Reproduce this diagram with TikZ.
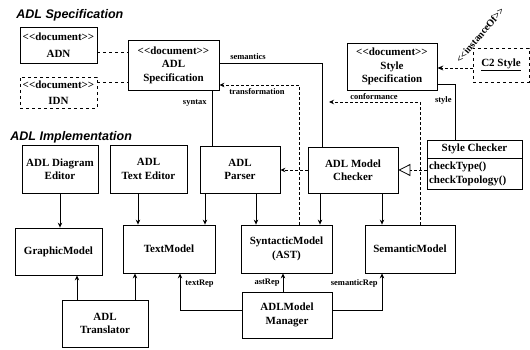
\documentclass[tikz,border=0pt]{standalone}
\usepackage{fontspec}
\setmainfont{Liberation Serif}
\newfontfamily\headfont{Liberation Sans}
\usetikzlibrary{arrows.meta,shapes.multipart}

\newcommand\stereo[1]{<\kern0pt<#1>\kern0pt>}

\begin{document}
\begin{tikzpicture}[x=1pt, y=-1pt, line width=0.8pt,
    box/.style={draw, fill=white, align=center, inner sep=1pt,
                font=\fontsize{11}{13.5}\selectfont\bfseries},
    lbl/.style={font=\fontsize{8.5}{10}\selectfont\bfseries, inner sep=1pt},
    head/.style={font=\headfont\fontsize{12.5}{14}\selectfont\bfseries\itshape, inner sep=0pt},
    conn/.style={-{Stealth[length=5pt,width=4.5pt]}}]
    \useasboundingbox (0,0) rectangle (530,350);

    \node[head, anchor=west] (spectitle) at (16,15) {ADL Specification};
    \node[head, anchor=west] (impltitle) at (10,137) {ADL Implementation};

    \node[box, minimum width=77pt, minimum height=36pt] (adn) at (58.5,45) {\stereo{document}\\[3pt]ADN};
    \node[box, dashed, minimum width=77pt, minimum height=31pt] (idn) at (58.5,92.5) {\stereo{document}\\[2pt]IDN};
    \node[box, minimum width=91pt, minimum height=50pt] (spec) at (173.5,65) {\stereo{document}\\ADL\\Specification};
    \node[box, minimum width=90pt, minimum height=47pt] (stylespec) at (392,66.5) {\stereo{document}\\Style\\Specification};
    \node[box, dashed, minimum width=56pt, minimum height=34pt] (c2) at (501,65) {\underline{C2 Style}};

    \node[box, minimum width=76pt, minimum height=48pt] (ded) at (60,169) {ADL Diagram\\Editor};
    \node[box, minimum width=77pt, minimum height=48pt] (ted) at (148.5,169) {ADL\\Text Editor};
    \node[box, minimum width=80pt, minimum height=47pt] (parser) at (240,169.5) {ADL\\Parser};
    \node[box, minimum width=90pt, minimum height=46pt] (checker) at (353,170) {ADL Model\\Checker};
    \node[box, anchor=north, align=left, minimum width=95pt, inner xsep=2pt, inner ysep=3.5pt,
          rectangle split, rectangle split parts=2, rectangle split part align={center,left}]
          (stylechk) at (474.5,140) {Style Checker\nodepart{two}checkType()\\checkTopology()};

    \node[box, minimum width=87pt, minimum height=47pt] (graphic) at (58.5,251.5) {GraphicModel};
    \node[box, minimum width=92pt, minimum height=48pt] (textm) at (169,249) {TextModel};
    \node[box, minimum width=91pt, minimum height=48pt] (synt) at (286.5,249) {SyntacticModel\\(AST)};
    \node[box, minimum width=90pt, minimum height=48pt] (sem) at (410,249) {SemanticModel};

    \node[box, minimum width=86pt, minimum height=47pt] (trans) at (105,323.5) {ADL\\Translator};
    \node[box, minimum width=90pt, minimum height=46pt] (mgr) at (287,315) {ADLModel\\Manager};

    \draw[dashed] ([yshift=-7pt]adn.east) -- ([yshift=-7pt]adn.east -| spec.west);
    \draw[dashed] ([yshift=10.5pt]idn.east) -- ([yshift=10.5pt]idn.east -| spec.west);

    \draw ([xshift=-7pt]spec.south east) -- ([xshift=-7pt]spec.south east |- parser.north);
    \node[lbl, anchor=east] (syntaxlbl) at (208,103) {syntax};
    \draw ([yshift=2pt]spec.east) -| ([xshift=-31pt]checker.north);
    \node[lbl, anchor=south] (semlbl) at (248,61) {semantics};
    \draw[densely dashed, conn] ([xshift=12.5pt]synt.north) |- ([yshift=-20pt]spec.east);
    \node[lbl, anchor=north] (translbl) at (257,87) {transformation};

    \coordinate (confend) at (329,102);
    \draw[densely dashed, conn] ([xshift=10pt]sem.north) |- (confend);
    \node[lbl, anchor=south] (conflbl) at (374,101) {conformance};
    \draw ([yshift=-17.5pt]stylespec.east) -| ([xshift=-19.5pt]stylechk.north);
    \node[lbl, anchor=east] (stylelbl) at (453,100) {style};

    \draw[densely dashed, -{Stealth[open,length=6pt,width=5pt]}] ([yshift=-3pt]c2.west) -- ([yshift=-3pt]c2.west -| stylespec.east);
    \node[lbl, font=\fontsize{10}{12}\selectfont\bfseries, rotate=50] (instlbl) at (480,35) {\stereo{instanceOf}};

    \draw[densely dashed, conn] (checker.west) -- (checker.west -| parser.east);
    \draw[densely dashed, -{Triangle[open,length=12pt,width=12pt]}] (checker.east -| stylechk.west) -- (checker.east);

    \draw[conn] (ded.south) -- (ded.south |- graphic.north);
    \draw[conn] ([xshift=-10.5pt]ted.south) -- ([xshift=-10.5pt]ted.south |- textm.north);
    \draw[conn] ([xshift=-35pt]parser.south) -- ([xshift=-35pt]parser.south |- textm.north);
    \draw[conn] ([xshift=16pt]parser.south) -- ([xshift=16pt]parser.south |- synt.north);
    \draw[conn] ([xshift=-33pt]checker.south) -- ([xshift=-33pt]checker.south |- synt.north);
    \draw[conn] ([xshift=29pt]checker.south) -- ([xshift=29pt]checker.south |- sem.north);

    \draw[conn] ([xshift=-28pt]trans.north) -- ([xshift=-28pt]trans.north |- graphic.south);
    \draw[conn] ([xshift=30pt]trans.north) -- ([xshift=30pt]trans.north |- textm.south);
    \draw[conn] ([yshift=5pt]mgr.west) -| ([xshift=11pt]textm.south);
    \node[lbl, anchor=west] (textlbl) at (184,284) {textRep};
    \draw[conn] ([xshift=-4pt]mgr.north) -- ([xshift=-4pt]mgr.north |- synt.south);
    \node[lbl, anchor=east] (astlbl) at (281,283) {astRep};
    \draw[conn] ([yshift=5pt]mgr.east) -| ([xshift=-28pt]sem.south);
    \node[lbl, anchor=east] (semreplbl) at (379,283) {semanticRep};
\end{tikzpicture}
\end{document}
